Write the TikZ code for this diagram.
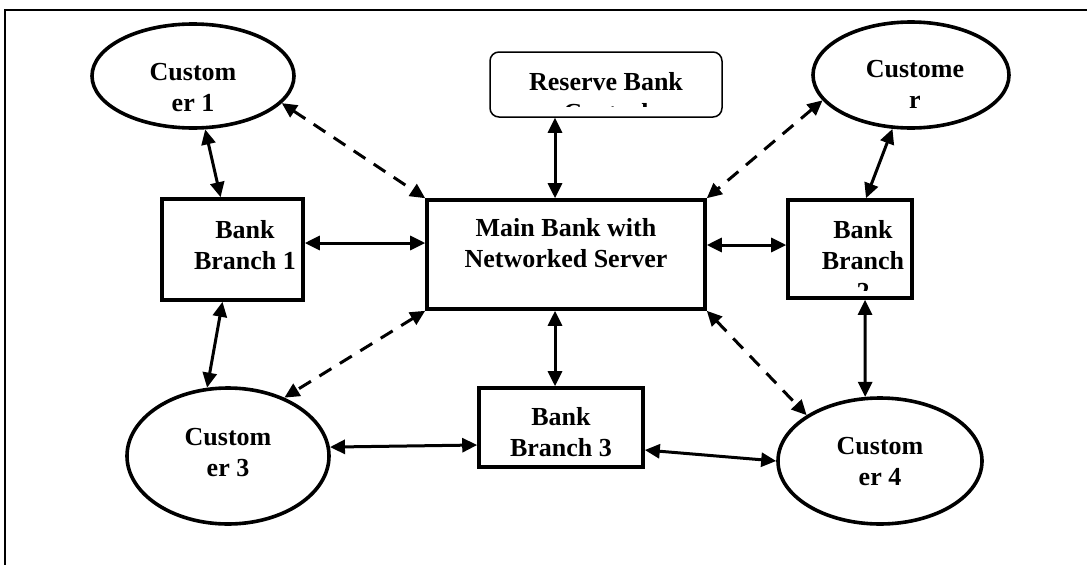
\documentclass[tikz,border=0pt]{standalone}
\usepackage{fontspec}
\setmainfont{Liberation Serif}
\usetikzlibrary{arrows.meta,shapes.geometric,calc}

\begin{document}
\begin{tikzpicture}[x=1pt,y=-1pt,
    cust/.style={draw, ellipse, line width=3.6pt, inner sep=0pt},
    branch/.style={draw, rectangle, line width=3.6pt, inner sep=0pt},
    txt/.style={font=\fontsize{26}{31}\selectfont\bfseries, align=center, inner sep=0pt},
    link/.style={line width=3pt, {Triangle[length=15pt,width=14pt]}-{Triangle[length=15pt,width=14pt]}},
    dlink/.style={link, dash pattern=on 14pt off 10pt}]
    \useasboundingbox (0,0) rectangle (1087,565);

    % page frame (only top and left show)
    \draw[line width=2pt] (1087,10) -- (5,10) -- (5,565);

    % customers
        \node[cust, minimum width=202pt, minimum height=104pt] (cust1) at (193,76) {};
        \node[cust, minimum width=196pt, minimum height=106pt] (cust2) at (911,75) {};
        \node[cust, minimum width=202pt, minimum height=136pt] (cust3) at (228,456) {};
        \node[cust, minimum width=204pt, minimum height=126pt] (cust4) at (880,461) {};
        \node[txt] (tcust1) at (193,88) {Custom\\er 1};
        \node[txt] (tcust2) at (915,84) {Custome\\r};
        \node[txt] (tcust3) at (228,453) {Custom\\er 3};
        \node[txt] (tcust4) at (880,462) {Custom\\er 4};

    % reserve bank, text cut off by the box
        \node[draw, rounded corners=9pt, line width=1.5pt, minimum width=232pt, minimum height=65pt] (rbi) at (606,84.5) {};
        \begin{scope}
            \clip (rbi.north west) rectangle ($(rbi.east)+(0,21.5)$);
            \node[txt] (trbi) at (606,97.5) {Reserve Bank\\Central};
        \end{scope}

    % main bank and branches
        \node[branch, minimum width=278pt, minimum height=109pt] (main) at (566,254.5) {};
        \node[branch, minimum width=141pt, minimum height=101pt] (br1) at (232.5,249.5) {};
        \node[branch, minimum width=124pt, minimum height=98pt] (br2) at (850,249) {};
        \node[branch, minimum width=164pt, minimum height=79pt] (br3) at (561,427.5) {};
        \node[txt] (tmain) at (566,243.5) {Main Bank with\\Networked Server};
        \node[txt] (tbr1) at (245,245) {Bank\\Branch 1};
        \node[txt] (tbr3) at (561,432) {Bank\\Branch 3};
        \begin{scope}
            \clip (br2.north west) rectangle ($(br2.east)+(0,41)$);
            \node[txt] (tbr2) at (863,260) {Bank\\Branch\\2};
        \end{scope}

    % solid links
        \draw[link] (cust1) -- (br1);
        \draw[link] ($(rbi.south -| main.north)+(-11,0)$) -- ($(main.north)+(-11,0)$);
        \draw[link] (cust2.251) -- ($(br2.north)+(16,0)$);
        \draw[link] ($(br1.east)+(0,-6.5)$) -- ($(main.west)+(0,-11.5)$);
        \draw[link] ($(main.east)+(0,-9.5)$) -- ($(br2.west)+(0,-4)$);
        \draw[link] ($(br2.south)+(15,0)$) -- (cust4.103);
        \draw[link] ($(br1.south)+(-10,0)$) -- (cust3.107);
        \draw[link] ($(main.south)+(-11,0)$) -- ($(br3.north)+(-6,0)$);
        \draw[link] (cust3.5) -- ($(br3.west)+(0,17.5)$);
        \draw[link] ($(br3.east)+(0,22.5)$) -- (cust4.west);

    % dashed links to the main bank
        \draw[dlink] (cust1.-17) -- (main.north west);
        \draw[dlink] (cust2.196) -- (main.north east);
        \draw[dlink] (main.south west) -- (cust3.46);
        \draw[dlink] (main.south east) -- (cust4.148);
\end{tikzpicture}
\end{document}
